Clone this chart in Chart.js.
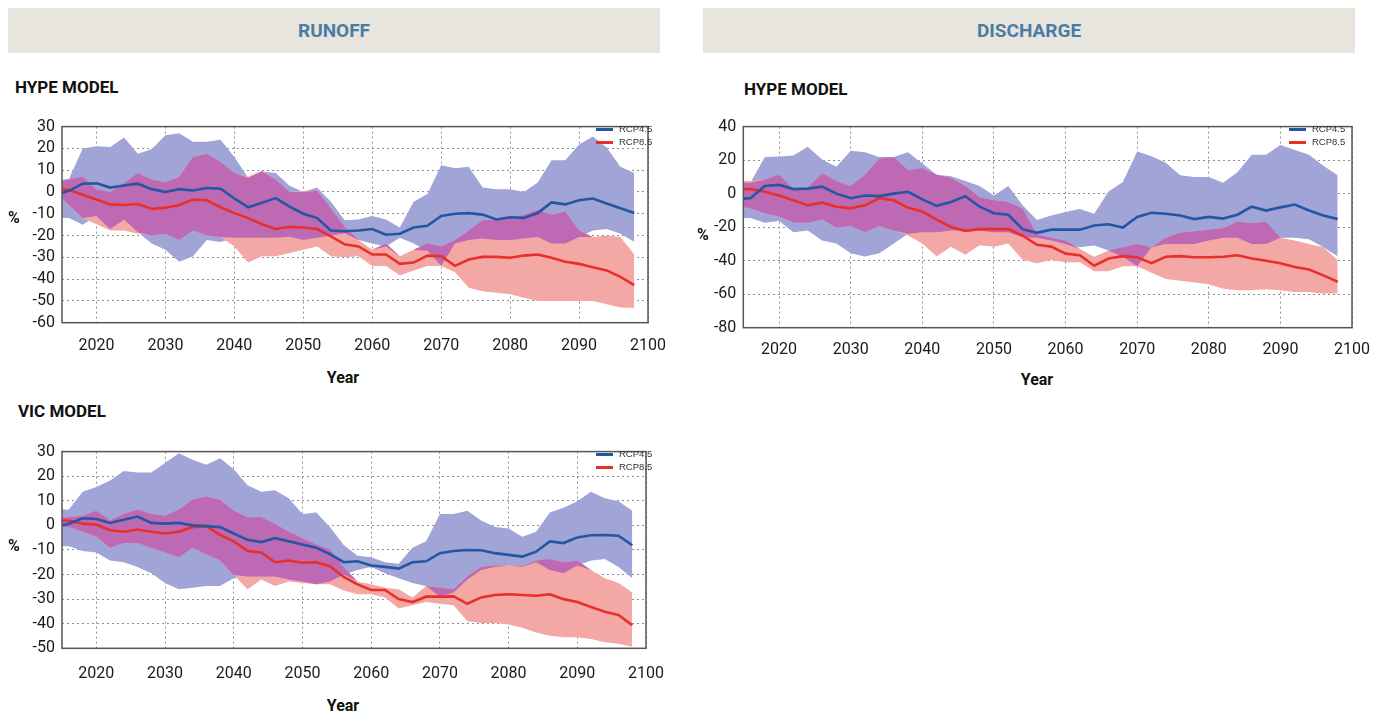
<!DOCTYPE html>
<html>
<head>
<meta charset="utf-8">
<script src="https://cdn.jsdelivr.net/npm/chart.js@4.4.1/dist/chart.umd.min.js"></script>
<style>
    body { margin: 0; background: #fff; width: 1385px; height: 715px; position: relative; overflow: hidden; font-family: Roboto, sans-serif; }
    .abs { position: absolute; }
    .hdr { position: absolute; top: 8px; height: 45px; width: 652px; background: #e8e5df; color: #4b7ca5; font: bold 19px Roboto, sans-serif; line-height: 46px; text-align: center; }
    .sub { position: absolute; font: bold 17px Roboto, sans-serif; color: #111; }
    .axt { position: absolute; font: bold 16px Roboto, sans-serif; color: #111; transform: translate(-50%, -50%); }
    .leg { position: absolute; font: 9.5px "Liberation Sans", Arial, sans-serif; color: #333; line-height: 13px; }
    .leg i { display: inline-block; width: 17px; height: 2.5px; vertical-align: middle; margin-right: 6px; }
</style>
</head>
<body>
    <div class="hdr" style="left: 8px;">RUNOFF</div>
    <div class="hdr" style="left: 703px;">DISCHARGE</div>

    <div class="sub" style="left: 15px; top: 77px;">HYPE MODEL</div>
    <div class="sub" style="left: 744px; top: 79px;">HYPE MODEL</div>
    <div class="sub" style="left: 18px; top: 401px;">VIC MODEL</div>

    <div class="abs" style="left: 0; top: 110px; width: 680px; height: 252px;"><canvas id="runoffHype"></canvas></div>
    <div class="abs" style="left: 690px; top: 110px; width: 695px; height: 256px;"><canvas id="dischargeHype"></canvas></div>
    <div class="abs" style="left: 0; top: 435px; width: 680px; height: 252px;"><canvas id="runoffVic"></canvas></div>

    <div class="axt" style="left: 14px; top: 217px;">%</div>
    <div class="axt" style="left: 343px; top: 377px;">Year</div>
    <div class="axt" style="left: 703px; top: 234px;">%</div>
    <div class="axt" style="left: 1037px; top: 379px;">Year</div>
    <div class="axt" style="left: 14px; top: 545px;">%</div>
    <div class="axt" style="left: 343px; top: 705px;">Year</div>

    <div class="leg" style="left: 596px; top: 122px;"><i style="background:#2456a4"></i>RCP4.5<br><i style="background:#e8302a"></i>RCP8.5</div>
    <div class="leg" style="left: 1289px; top: 122px;"><i style="background:#2456a4"></i>RCP4.5<br><i style="background:#e8302a"></i>RCP8.5</div>
    <div class="leg" style="left: 596px; top: 447px;"><i style="background:#2456a4"></i>RCP4.5<br><i style="background:#e8302a"></i>RCP8.5</div>

    <script>
        const years = [2015, 2016, 2018, 2020, 2022, 2024, 2026, 2028, 2030, 2032, 2034, 2036, 2038, 2040, 2042, 2044, 2046, 2048, 2050, 2052, 2054,
                       2056, 2058, 2060, 2062, 2064, 2066, 2068, 2070, 2072, 2074, 2076, 2078, 2080, 2082, 2084, 2086, 2088, 2090, 2092, 2094, 2096, 2098];
        const yearTicks = [2020, 2030, 2040, 2050, 2060, 2070, 2080, 2090, 2100];

        // runoff, HYPE model
        const runoffHypeMean45 = [-0.5, 0.5, 3.8, 4, 2, 3, 3.8, 1.3, 0, 1.3, 0.7, 1.8, 1.5, -3, -7, -5, -2.8, -6.7, -10, -12, -17.7, -18, -17.7, -17, -19.6, -19.2, -16.3, -15.5, -11, -10, -9.7, -10.4, -12.6, -11.6, -11.9, -9.7, -4.8, -5.7, -3.8, -3, -5.3, -7.5, -9.7];
        const runoffHypeMax45 = [5.7, 6, 20, 21, 20.6, 25, 17.5, 19.6, 26, 27, 23, 23, 24, 16, 6.5, 9.4, 8.7, 2.8, 0, 2, -4.5, -13, -12.6, -11, -12.6, -16.3, -4.5, -0.9, 12.3, 10.9, 11.6, 2, 1.3, 1.3, 0, 4.3, 14.5, 14.5, 21.8, 25.5, 20.4, 11.6, 8.7];
        const runoffHypeMin45 = [-12, -12, -15, -11, -17, -12.6, -18.5, -23.6, -26.5, -32, -29.5, -22, -23, -21, -21, -21, -21, -20.5, -22, -21, -20, -19, -22, -23.6, -25, -21, -23.6, -27, -33.9, -23.6, -22, -21.4, -22, -22, -21.4, -20.7, -23.6, -23.6, -20.7, -17.7, -17, -19.2, -22.9];
        const runoffHypeMean85 = [1, 1, -1.3, -3.5, -5.7, -6, -5.5, -7.8, -7.2, -6, -3.5, -3.8, -7, -9.7, -12, -14.8, -17, -16, -16.3, -17, -20.4, -24, -25, -28.7, -28.7, -33, -32.4, -29.2, -29.5, -33.9, -31, -29.8, -29.8, -30.2, -29.2, -28.7, -30.2, -32, -33, -34.6, -36, -39, -42.7];
        const runoffHypeMax85 = [5, 5.7, 7, 1.3, 0, 4, 8.7, 5.7, 4.5, 7, 16, 17.5, 13.8, 8.7, 7, 9.8, 5.7, 0, 0.6, 0.6, -7.5, -16, -22, -26.5, -23.6, -29.5, -26.5, -23.6, -25, -22, -17.7, -13, -12.6, -11.9, -10.4, -8.2, -10.4, -9, -17.7, -20.7, -20, -20.7, -28.7];
        const runoffHypeMin85 = [-3, -6, -12, -14.8, -17.7, -17.7, -19.2, -20, -19.2, -22, -17.7, -20, -20.7, -25, -32.4, -29.5, -29.5, -28, -26.5, -25, -29.5, -30, -29.5, -34, -34, -38.3, -36, -34, -34, -36.8, -44, -45.6, -46.3, -47, -48.5, -50, -50, -50, -50, -50, -51.5, -53, -53.2];

        // discharge, HYPE model
        const dischargeHypeMean45 = [-3, -2.7, 4.6, 5.2, 2.7, 3, 4.2, 0, -2.7, -1.1, -1.5, 0, 1.1, -3.4, -7.3, -5, -1.5, -7.8, -11.7, -12.6, -21.2, -23.4, -21.5, -21.5, -21.5, -19, -18.3, -20.2, -13.9, -11.4, -12, -13, -15.2, -13.9, -14.9, -12.6, -7.8, -10.1, -8.2, -6.5, -10.1, -13, -15.2];
        const dischargeHypeMax45 = [6.5, 6.5, 21.8, 22.2, 22.8, 28, 20.3, 16, 25.6, 24.7, 21.8, 21.8, 24.7, 18, 11.3, 10.3, 7.5, 4.6, -1.1, 4.6, -6.9, -15.8, -13, -11, -9.1, -12, 1.3, 7, 25.1, 22.3, 18.5, 10.9, 9.9, 9.9, 6.5, 12.8, 23.2, 23.2, 29, 26.1, 23.2, 16.6, 10.9];
        const dischargeHypeMin45 = [-14.5, -14.5, -17.4, -16.4, -23, -22, -28, -29.8, -35.6, -37.5, -35.6, -29.8, -24, -23, -23, -22, -22, -22, -23, -23, -26, -26.3, -28, -30, -32, -31, -33.9, -37.7, -43.4, -32, -30, -30, -30, -28, -26.3, -26.3, -30, -30, -26.3, -26.3, -27.2, -32, -37.3];
        const dischargeHypeMean85 = [2.7, 2.7, 1.1, -1.1, -4, -6.9, -5.4, -7.8, -8.8, -6.9, -2.7, -4, -8.4, -10.7, -15.5, -19.9, -22.2, -21.2, -21.2, -21.2, -25, -30.5, -31.6, -35.8, -36.8, -43, -38.7, -37.3, -38, -41.5, -37.7, -37.3, -38, -38, -37.7, -36.8, -38.7, -40, -41.5, -43.8, -45.3, -48.8, -52.6];
        const dischargeHypeMax85 = [7.5, 7.5, 8.4, 11.3, 2.7, 3.6, 12.2, 7.5, 4.6, 11.3, 20.8, 21.8, 14.1, 15.1, 11.3, 9.4, 4.6, -2.1, -4, -5, -8.8, -24.4, -26.3, -28, -33, -37.7, -33.9, -32, -30, -32, -26.3, -23.4, -22.5, -21.5, -20.6, -16.8, -17.7, -16.8, -26.3, -28, -30, -32, -39.6];
        const dischargeHypeMin85 = [-8, -8.8, -11.7, -13.6, -17.4, -17.4, -15.5, -20.3, -19.3, -23, -19.3, -22.2, -25, -29.8, -37.5, -31.7, -36.5, -30.8, -31.7, -29.8, -39.4, -41.5, -39.6, -41, -41, -46.3, -46.3, -43.4, -43.4, -47.2, -51, -52, -53, -54, -56.8, -57.7, -57.7, -57, -57.7, -58.7, -58.7, -59.6, -59.6];

        // runoff, VIC model
        const runoffVicMean45 = [0, 0.7, 2.9, 2.6, 1, 2.3, 3.6, 1, 0.7, 1, 0, -0.3, -0.7, -3.3, -5.9, -6.8, -5.2, -6.5, -7.8, -9.1, -11.7, -15, -14.6, -16.3, -16.9, -17.6, -15, -14.6, -11.3, -10.4, -10, -10.1, -11.3, -12, -12.7, -10.7, -6.5, -7.2, -4.9, -4, -3.9, -4.2, -8.1];
        const runoffVicMax45 = [6.5, 6.5, 13.7, 15.6, 18.2, 22.1, 21.5, 21.5, 25.4, 29.3, 26.7, 24.7, 27.3, 22.8, 16.3, 13.7, 14.3, 11, 4.6, 5.2, -0.7, -8, -12.4, -13, -15, -15.6, -9.1, -6.5, 4.6, 4.6, 5.9, 2, -0.7, -1.3, -4.6, -2.6, 5.2, 7.2, 9.8, 13.7, 11, 9.8, 5.9];
        const runoffVicMin45 = [-8.5, -8.5, -10.4, -11, -14.3, -15, -16.9, -19.5, -23.4, -26, -25.4, -24.7, -24.7, -21.5, -20.8, -20.8, -20.8, -22, -22.8, -24, -22.8, -20, -18.2, -16.9, -19.5, -21.5, -23.4, -24.7, -29, -27.3, -22, -18.2, -16.9, -16.3, -16.9, -15, -18.2, -19.5, -16.3, -14.3, -13.7, -16.9, -21.5];
        const runoffVicMean85 = [2, 2, 0.7, 0.3, -2, -2.6, -1.7, -2.6, -3.3, -2.6, -0.7, -0.3, -3.9, -6.5, -10.4, -11, -15, -14.3, -15.2, -15, -16.6, -21, -24, -26.3, -26.3, -30, -31.2, -29, -29, -28.9, -31.9, -29.3, -28.3, -28, -28.3, -28.6, -28, -30, -31.2, -33.2, -35.1, -36.4, -40.6];
        const runoffVicMax85 = [3.3, 3.3, 3.9, 5.9, 2, 4.6, 6.5, 4.6, 3.9, 6.5, 10.4, 11.7, 10.4, 5.9, 3.3, 3.3, 0.7, -2.6, -5.2, -7.8, -9.8, -17, -22.8, -24, -25.4, -26, -29.3, -24.7, -25.4, -26, -20.8, -16.9, -16.3, -16.3, -16.6, -14.3, -13.7, -15, -14.3, -18.2, -21.5, -23.4, -27.3];
        const runoffVicMin85 = [-0.7, -0.7, -2.6, -4.6, -9.1, -7.2, -7.2, -9.1, -11, -13, -9.1, -11.7, -14.3, -20.2, -26, -22, -24.7, -22.8, -23.4, -24, -24, -26.5, -28, -28, -29.3, -33.8, -32.5, -31.2, -31.9, -32.5, -39, -39.7, -39.7, -40.3, -41.6, -43.6, -44.9, -45.5, -45.5, -46.2, -47.5, -48.1, -49.4];

        const BLUE = '#2456a4';
        const RED = '#e8302a';
        const BLUE_BAND = '#a1a4d6';
        const RED_BAND = '#f4a8a6';
        const BOTH_BAND = '#bd69b3';
        const tickFont = { family: 'Roboto', size: 16 };

        // box round the whole plot area
        const frame = {
            id: 'frame',
            afterDraw(chart) {
                const { ctx, chartArea: a } = chart;
                ctx.save();
                ctx.strokeStyle = '#555';
                ctx.lineWidth = 1.5;
                ctx.strokeRect(a.left, a.top, a.right - a.left, a.bottom - a.top);
                ctx.restore();
            }
        };

        const pts = arr => arr.map((v, i) => ({ x: years[i], y: v }));

        function bandChart(id, s, o) {
            // where the two ranges overlap
            const bothTop = s.max45.map((v, i) => Math.min(v, s.max85[i]));
            const bothBottom = bothTop.map((v, i) => Math.min(v, Math.max(s.min45[i], s.min85[i])));
            const band = (arr, fill, order) => ({ data: pts(arr), borderWidth: 0, backgroundColor: fill, fill: fill ? '+1' : false, order });

            return new Chart(document.getElementById(id), {
                type: 'line',
                data: {
                    datasets: [
                        { data: pts(s.mean45), borderColor: BLUE, borderWidth: 2.6, fill: false, order: 0 },
                        { data: pts(s.mean85), borderColor: RED, borderWidth: 2.6, fill: false, order: 0 },
                        band(bothTop, BOTH_BAND, 1), band(bothBottom, null, 1),
                        band(s.max85, RED_BAND, 2), band(s.min85, null, 2),
                        band(s.max45, BLUE_BAND, 3), band(s.min45, null, 3)
                    ]
                },
                options: {
                    animation: false,
                    responsive: true,
                    maintainAspectRatio: false,
                    elements: { point: { radius: 0 }, line: { tension: 0 } },
                    layout: { padding: { top: o.top, right: o.right, left: 0, bottom: 0 } },
                    plugins: { legend: { display: false }, tooltip: { enabled: false } },
                    scales: {
                        x: {
                            type: 'linear', min: 2015, max: 2100, z: 1,
                            afterFit: sc => { sc.height = o.xh; },
                            afterBuildTicks: sc => { sc.ticks = yearTicks.map(v => ({ value: v })); },
                            ticks: { padding: o.xpad, font: tickFont, color: '#1a1a1a', maxRotation: 0, autoSkip: false, callback: v => String(v) },
                            grid: { color: '#8f8f8f', drawTicks: false },
                            border: { display: false, dash: [2, 3] }
                        },
                        y: {
                            min: o.ymin, max: o.ymax, z: 1,
                            afterFit: sc => { sc.width = o.yw; },
                            ticks: { stepSize: o.step, padding: 7, font: tickFont, color: '#1a1a1a', autoSkip: false },
                            grid: { color: '#8f8f8f', drawTicks: false },
                            border: { display: false, dash: [2, 3] }
                        }
                    }
                },
                plugins: [frame]
            });
        }

        bandChart('runoffHype', {
            mean45: runoffHypeMean45, max45: runoffHypeMax45, min45: runoffHypeMin45,
            mean85: runoffHypeMean85, max85: runoffHypeMax85, min85: runoffHypeMin85
        }, { ymin: -60, ymax: 30, step: 10, yw: 62, top: 8.3, right: 22, xh: 39.3, xpad: 14 });

        bandChart('dischargeHype', {
            mean45: dischargeHypeMean45, max45: dischargeHypeMax45, min45: dischargeHypeMin45,
            mean85: dischargeHypeMean85, max85: dischargeHypeMax85, min85: dischargeHypeMin85
        }, { ymin: -80, ymax: 40, step: 20, yw: 53.3, top: 8.3, right: 33, xh: 38.3, xpad: 13 });

        bandChart('runoffVic', {
            mean45: runoffVicMean45, max45: runoffVicMax45, min45: runoffVicMin45,
            mean85: runoffVicMean85, max85: runoffVicMax85, min85: runoffVicMin85
        }, { ymin: -50, ymax: 30, step: 10, yw: 62, top: 8.3, right: 22, xh: 38.7, xpad: 16 });
    </script>
</body>
</html>
